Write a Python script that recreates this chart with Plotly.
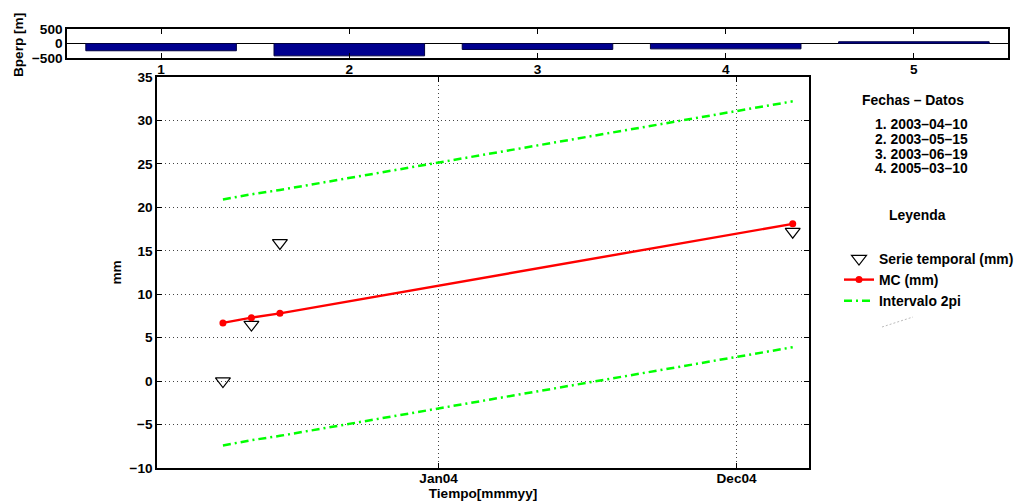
import plotly.graph_objects as go

# ---- data ----
dates = ["2003-04-10", "2003-05-15", "2003-06-19", "2005-03-10"]
serie_mm = [0.0, 6.5, 15.9, 17.2]
mc_mm = [6.7, 7.3, 7.8, 18.1]
upper_2pi = [20.9, 21.5, 22.0, 32.2]
lower_2pi = [-7.4, -6.8, -6.3, 3.9]

bar_idx = [1, 2, 3, 4, 5]
bperp_m = [-250, -425, -205, -185, 60]

xtick_vals = ["2003-12-31", "2004-12-31"]
xtick_text = ["Jan04", "Dec04"]
ytick_vals = [-10, -5, 0, 5, 10, 15, 20, 25, 30, 35]

W, H = 1016, 504
FONT = "Liberation Sans, Arial, Helvetica, sans-serif"
FS = 13.6
FS_TXT = 13.9


def px(x):
    return x / W


def py(y):
    return 1 - y / H


title_font = dict(family=FONT, size=FS, color="black", weight="bold")

fig = go.Figure()

# top bar chart
fig.add_trace(go.Bar(
    x=bar_idx, y=bperp_m, width=0.8,
    marker=dict(color="#00008F", line=dict(color="#000040", width=1)),
    xaxis="x2", yaxis="y2", showlegend=False))

# main chart
fig.add_trace(go.Scatter(
    x=dates, y=serie_mm, mode="markers", name="Serie temporal (mm)",
    marker=dict(symbol="triangle-down-open", size=13, color="black",
                line=dict(width=1.2, color="black"))))
fig.add_trace(go.Scatter(
    x=dates, y=mc_mm, mode="lines+markers", name="MC (mm)",
    line=dict(color="#FF0000", width=2.4),
    marker=dict(symbol="circle", size=7, color="#FF0000")))
fig.add_trace(go.Scatter(
    x=dates, y=upper_2pi, mode="lines", name="Intervalo 2pi",
    legendgroup="ic",
    line=dict(color="#00FF00", width=2.5, dash="8px,4px,2px,4px")))
fig.add_trace(go.Scatter(
    x=dates, y=lower_2pi, mode="lines", name="Intervalo 2pi",
    legendgroup="ic", showlegend=False,
    line=dict(color="#00FF00", width=2.5, dash="8px,4px,2px,4px")))

axis_common = dict(showline=True, linecolor="black", linewidth=1.5,
                   mirror="ticks", ticks="inside", ticklen=5,
                   tickcolor="black", zeroline=False, automargin=False)

fig.update_layout(
    width=W, height=H,
    margin=dict(l=0, r=0, t=0, b=0, autoexpand=False),
    paper_bgcolor="white", plot_bgcolor="white",
    font=dict(family=FONT, size=FS, color="black", weight="bold"),
    xaxis=dict(domain=[px(157), px(809)], type="date",
               range=["2003-01-19", "2005-03-30"],
               tickvals=xtick_vals, ticktext=xtick_text,
               showgrid=True, gridcolor="#444444", griddash="1px,3px", gridwidth=1,
               ticklabelstandoff=-3,
               title=dict(text="Tiempo[mmmyy]", standoff=2, font=title_font),
               anchor="y", **axis_common),
    yaxis=dict(domain=[py(468), py(77)], range=[-10, 35],
               tickvals=ytick_vals,
               showgrid=True, gridcolor="#444444", griddash="1px,3px", gridwidth=1,
               title=dict(text="mm", standoff=5, font=title_font),
               anchor="x", **axis_common),
    xaxis2=dict(domain=[px(67), px(1008)], range=[0.5, 5.5],
                tickvals=bar_idx, anchor="y2", showgrid=False,
                ticklabelstandoff=-2,
                **axis_common),
    yaxis2=dict(domain=[py(58), py(29)], range=[-500, 500],
                tickvals=[-500, 0, 500], anchor="x2", showgrid=False,
                showline=True, linecolor="black", linewidth=1.5,
                mirror="ticks", ticks="inside", ticklen=5, tickcolor="black",
                zeroline=True, zerolinecolor="black", zerolinewidth=1,
                automargin=False),
    bargap=0.2,
    legend=dict(x=px(839), y=py(243), xanchor="left", yanchor="top",
                bgcolor="rgba(0,0,0,0)", borderwidth=0,
                font=dict(family=FONT, size=FS_TXT, color="black", weight="bold"),
                tracegroupgap=0),
    shapes=[dict(type="line", xref="paper", yref="paper",
                 x0=px(882), y0=py(327), x1=px(913), y1=py(317),
                 line=dict(color="#BBBBBB", width=1, dash="2px,2px"))],
)

fechas = [f"{i + 1}. {d}" for i, d in enumerate(dates)]
txt_font = dict(family=FONT, size=FS_TXT, color="black", weight="bold")
ann = [dict(text="Fechas \u2013 Datos", x=px(913), y=py(100), xref="paper", yref="paper",
            xanchor="center", yanchor="middle", showarrow=False, font=txt_font),
       dict(text="Leyenda", x=px(917), y=py(215), xref="paper", yref="paper",
            xanchor="center", yanchor="middle", showarrow=False, font=txt_font),
       dict(text="Bperp [m]", x=px(18), y=py(45), xref="paper", yref="paper",
            xanchor="center", yanchor="middle", textangle=-90, showarrow=False,
            font=title_font)]
for i, f in enumerate(fechas):
    ann.append(dict(text=f.replace("-", "\u2013"), x=px(873), y=py(124 + i * 14.8),
                    xref="paper", yref="paper", xanchor="left", yanchor="middle",
                    showarrow=False, font=txt_font))
fig.update_layout(annotations=ann)

fig.write_html(
    "out.html",
    config={"displayModeBar": False},
    post_script="document.body.style.margin='0';document.body.style.overflow='hidden';",
)
